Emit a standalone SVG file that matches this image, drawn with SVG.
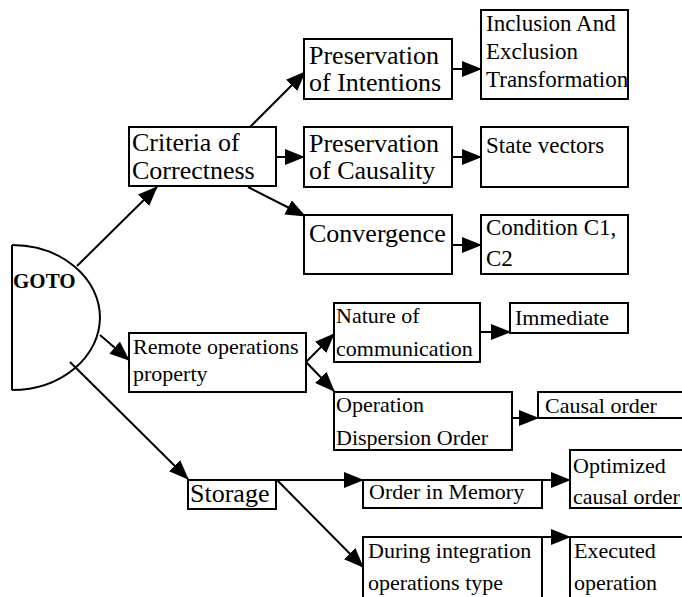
<svg xmlns="http://www.w3.org/2000/svg" width="682" height="597" viewBox="0 0 682 597">
<style>
  .box { fill: #fff; stroke: #000; stroke-width: 2; }
  .t { font-family: "Liberation Serif", "Times New Roman", serif; fill: #000; }
  .big { font-size: 26px; }
  .sm { font-size: 22px; }
  .md { font-size: 23px; }
  .con line, .con path { stroke: #000; stroke-width: 2; fill: none; }
</style>
<defs>
  <marker id="ah" markerUnits="userSpaceOnUse" markerWidth="20" markerHeight="16" refX="19" refY="8" orient="auto">
    <path d="M0,0 L20,8 L0,16 Z" fill="#000"/>
  </marker>
  <clipPath id="cRemote"><rect x="129" y="333" width="177" height="59"/></clipPath>
  <clipPath id="cNature"><rect x="334" y="303" width="146" height="59"/></clipPath>
  <clipPath id="cIncl"><rect x="481" y="10" width="147" height="89"/></clipPath>
</defs>
<rect width="682" height="597" fill="#fff"/>

<g id="connectors" class="con">
  <line x1="77" y1="266" x2="157" y2="187" marker-end="url(#ah)"/>
  <line x1="100" y1="335" x2="129" y2="360" marker-end="url(#ah)"/>
  <line x1="70" y1="362" x2="188" y2="479" marker-end="url(#ah)"/>
  <line x1="250" y1="127" x2="305" y2="72" marker-end="url(#ah)"/>
  <line x1="276" y1="157" x2="304" y2="157" marker-end="url(#ah)"/>
  <line x1="248" y1="187" x2="305" y2="216" marker-end="url(#ah)"/>
  <line x1="452" y1="69" x2="481" y2="69" marker-end="url(#ah)"/>
  <line x1="452" y1="157" x2="481" y2="157" marker-end="url(#ah)"/>
  <line x1="452" y1="245" x2="481" y2="245" marker-end="url(#ah)"/>
  <line x1="306" y1="362" x2="334" y2="334" marker-end="url(#ah)"/>
  <line x1="306" y1="362" x2="334" y2="391" marker-end="url(#ah)"/>
  <line x1="480" y1="332" x2="510" y2="332" marker-end="url(#ah)"/>
  <line x1="512" y1="418" x2="538" y2="418" marker-end="url(#ah)"/>
  <line x1="277" y1="480" x2="363" y2="480" marker-end="url(#ah)"/>
  <line x1="277" y1="480" x2="363" y2="567" marker-end="url(#ah)"/>
  <line x1="542" y1="480" x2="570" y2="480" marker-end="url(#ah)"/>
  <line x1="542" y1="537" x2="570" y2="537" marker-end="url(#ah)"/>
</g>

<g id="goto">
  <path d="M12,245 A88,72.5 0 0 1 12,390" fill="none" stroke="#000" stroke-width="2"/>
  <line x1="12" y1="245" x2="12" y2="390" stroke="#000" stroke-width="2"/>
  <text class="t" x="13" y="288" font-size="21" font-weight="bold">GOTO</text>
</g>

<g id="criteria">
  <rect class="box" x="129" y="127" width="147" height="59"/>
  <text class="t big" x="132" y="151">Criteria of</text>
  <text class="t big" x="132" y="179">Correctness</text>
</g>

<g id="pres-intentions">
  <rect class="box" x="304" y="39" width="148" height="60"/>
  <text class="t big" x="309" y="64">Preservation</text>
  <text class="t big" x="309" y="91">of Intentions</text>
</g>

<g id="pres-causality">
  <rect class="box" x="304" y="127" width="148" height="60"/>
  <text class="t big" x="309" y="152">Preservation</text>
  <text class="t big" x="309" y="179">of Causality</text>
</g>

<g id="convergence">
  <rect class="box" x="304" y="215" width="148" height="59"/>
  <text class="t big" x="309" y="242">Convergence</text>
</g>

<g id="inclusion">
  <rect class="box" x="481" y="10" width="147" height="89"/>
  <g clip-path="url(#cIncl)">
    <text class="t md" x="486" y="31">Inclusion And</text>
    <text class="t md" x="486" y="59">Exclusion</text>
    <text class="t md" x="486" y="87">Transformation</text>
  </g>
</g>

<g id="state-vectors">
  <rect class="box" x="481" y="127" width="147" height="60"/>
  <text class="t md" x="486" y="153">State vectors</text>
</g>

<g id="condition">
  <rect class="box" x="481" y="215" width="147" height="59"/>
  <text class="t md" x="486" y="235">Condition C1,</text>
  <text class="t md" x="486" y="266">C2</text>
</g>

<g id="remote">
  <rect class="box" x="129" y="333" width="177" height="59"/>
  <g clip-path="url(#cRemote)">
    <text class="t sm" x="133" y="354">Remote operations</text>
    <text class="t sm" x="133" y="381">property</text>
  </g>
</g>

<g id="nature">
  <rect class="box" x="334" y="303" width="146" height="59"/>
  <g clip-path="url(#cNature)">
    <text class="t sm" x="336" y="323">Nature of</text>
    <text class="t sm" x="336" y="356">communication</text>
  </g>
</g>

<g id="immediate">
  <rect class="box" x="510" y="303" width="118" height="30"/>
  <text class="t sm" x="515" y="325">Immediate</text>
</g>

<g id="dispersion">
  <rect class="box" x="334" y="392" width="178" height="58"/>
  <text class="t sm" x="336" y="412">Operation</text>
  <text class="t sm" x="336" y="445">Dispersion Order</text>
</g>

<g id="causal-order">
  <rect class="box" x="538" y="392" width="160" height="26"/>
  <text class="t sm" x="545" y="413">Causal order</text>
</g>

<g id="storage">
  <rect class="box" x="188" y="480" width="88" height="29"/>
  <text class="t big" x="190" y="502">Storage</text>
</g>

<g id="order-memory">
  <rect class="box" x="363" y="480" width="179" height="28"/>
  <text class="t sm" x="369" y="499">Order in Memory</text>
</g>

<g id="optimized">
  <rect class="box" x="570" y="450" width="130" height="58"/>
  <text class="t sm" x="573" y="473">Optimized</text>
  <text class="t sm" x="573" y="504">causal order</text>
</g>

<g id="during">
  <rect class="box" x="363" y="537" width="179" height="70"/>
  <text class="t sm" x="368" y="558">During integration</text>
  <text class="t sm" x="368" y="590">operations type</text>
</g>

<g id="executed">
  <rect class="box" x="570" y="537" width="130" height="70"/>
  <text class="t sm" x="574" y="558">Executed</text>
  <text class="t sm" x="574" y="590">operation</text>
</g>
</svg>
